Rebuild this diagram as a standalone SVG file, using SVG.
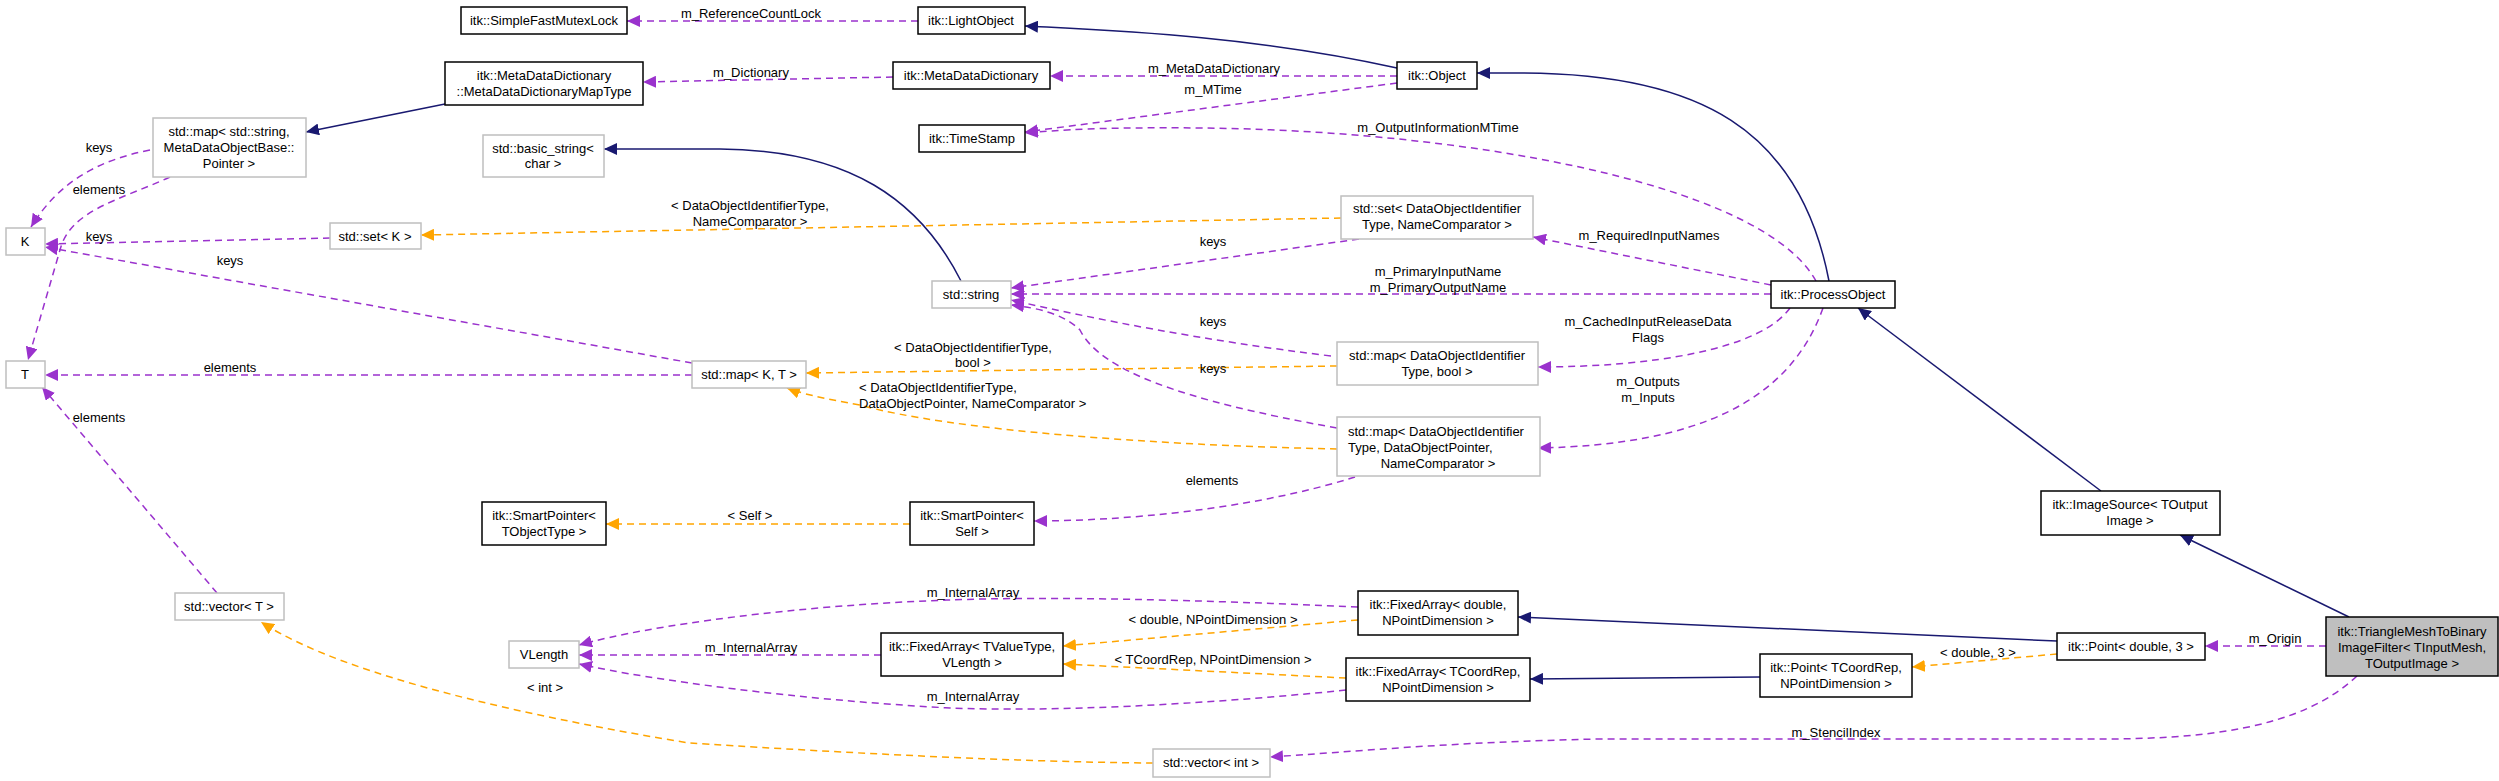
<svg xmlns="http://www.w3.org/2000/svg" width="2499" height="781" viewBox="0 0 2499 781">
<style>
text{font-family:"Liberation Sans",Arial,sans-serif;font-size:13px;fill:#000;text-anchor:middle}
.b{fill:#fff;stroke:#000;stroke-width:1.5}
.g{fill:#fff;stroke:#bfbfbf;stroke-width:1.5}
.inh{fill:none;stroke:#191970;stroke-width:1.5}
.mem{fill:none;stroke:#9a32cd;stroke-width:1.5;stroke-dasharray:7,5}
.tpl{fill:none;stroke:#ffa500;stroke-width:1.5;stroke-dasharray:7,5}
.l{font-size:13px}
</style>
<defs>
<marker id="ab" markerUnits="userSpaceOnUse" markerWidth="14" markerHeight="12" refX="13" refY="6" orient="auto"><path d="M0,0 L13,6 L0,12 Z" fill="#191970"/></marker>
<marker id="ap" markerUnits="userSpaceOnUse" markerWidth="14" markerHeight="12" refX="13" refY="6" orient="auto"><path d="M0,0 L13,6 L0,12 Z" fill="#9a32cd"/></marker>
<marker id="ao" markerUnits="userSpaceOnUse" markerWidth="14" markerHeight="12" refX="13" refY="6" orient="auto"><path d="M0,0 L13,6 L0,12 Z" fill="#ffa500"/></marker>
</defs>
<g id="connectors">
<path class="inh" marker-end="url(#ab)" d="M1397,68 C1250,35 1100,30 1025,26"/>
<path class="inh" marker-end="url(#ab)" d="M445,104 L306,132"/>
<path class="inh" marker-end="url(#ab)" d="M961,281 C920,200 850,150 720,149 L604,149"/>
<path class="inh" marker-end="url(#ab)" d="M1829,281 C1800,130 1700,73 1520,73 L1477,73"/>
<path class="inh" marker-end="url(#ab)" d="M2101,491 L1858,308"/>
<path class="inh" marker-end="url(#ab)" d="M2349,617 L2180,535"/>
<path class="inh" marker-end="url(#ab)" d="M2057,641 L1518,617"/>
<path class="inh" marker-end="url(#ab)" d="M1760,677 L1530,679"/>
<path class="mem" marker-end="url(#ap)" d="M918,21 L627,21"/>
<path class="mem" marker-end="url(#ap)" d="M893,77 L643,82"/>
<path class="mem" marker-end="url(#ap)" d="M1397,76 L1050,76"/>
<path class="mem" marker-end="url(#ap)" d="M1397,83 L1025,132"/>
<path class="mem" marker-end="url(#ap)" d="M1816,281 C1760,180 1450,130 1200,128 C1100,127 1060,130 1025,133"/>
<path class="mem" marker-end="url(#ap)" d="M1771,285 L1533,237"/>
<path class="mem" marker-end="url(#ap)" d="M1771,294 L1011,294"/>
<path class="mem" marker-end="url(#ap)" d="M1359,239 L1011,288"/>
<path class="mem" marker-end="url(#ap)" d="M1331,356 C1200,340 1100,320 1011,300"/>
<path class="mem" marker-end="url(#ap)" d="M1337,428 C1180,400 1100,370 1080,330 C1065,315 1040,308 1011,305"/>
<path class="mem" marker-end="url(#ap)" d="M1790,308 C1760,350 1650,367 1538,367"/>
<path class="mem" marker-end="url(#ap)" d="M1823,308 C1790,400 1700,445 1538,448"/>
<path class="mem" marker-end="url(#ap)" d="M1355,477 C1250,510 1120,521 1034,521"/>
<path class="mem" marker-end="url(#ap)" d="M150,150 C100,160 60,180 31,227"/>
<path class="mem" marker-end="url(#ap)" d="M170,177 C120,200 70,210 60,250 L28,360"/>
<path class="mem" marker-end="url(#ap)" d="M330,238 L45,244"/>
<path class="mem" marker-end="url(#ap)" d="M692,363 L45,247"/>
<path class="mem" marker-end="url(#ap)" d="M692,375 L45,375"/>
<path class="mem" marker-end="url(#ap)" d="M217,593 L42,387"/>
<path class="mem" marker-end="url(#ap)" d="M1358,607 C1200,600 1050,596 950,600 C800,605 650,625 579,645"/>
<path class="mem" marker-end="url(#ap)" d="M881,655 L579,655"/>
<path class="mem" marker-end="url(#ap)" d="M1346,690 C1200,705 1050,712 950,708 C800,700 650,680 579,664"/>
<path class="mem" marker-end="url(#ap)" d="M2326,646 L2205,646"/>
<path class="mem" marker-end="url(#ap)" d="M2357,676 C2300,730 2200,739 2100,739 L1600,739 C1450,742 1350,752 1270,757"/>
<path class="tpl" marker-end="url(#ao)" d="M1341,218 L421,235"/>
<path class="tpl" marker-end="url(#ao)" d="M1337,366 L806,373"/>
<path class="tpl" marker-end="url(#ao)" d="M1337,449 C1150,445 950,430 860,405 C820,398 800,393 787,388"/>
<path class="tpl" marker-end="url(#ao)" d="M910,524 L606,524"/>
<path class="tpl" marker-end="url(#ao)" d="M1358,620 L1063,646"/>
<path class="tpl" marker-end="url(#ao)" d="M1346,678 L1063,664"/>
<path class="tpl" marker-end="url(#ao)" d="M2057,654 L1912,667"/>
<path class="tpl" marker-end="url(#ao)" d="M1153,763 C1000,762 800,750 689,743 C550,720 350,680 261,622"/>
<g class="labels">
<text x="751" y="18">m_ReferenceCountLock</text>
<text x="751" y="77">m_Dictionary</text>
<text x="1214" y="73">m_MetaDataDictionary</text>
<text x="1213" y="94">m_MTime</text>
<text x="1438" y="132">m_OutputInformationMTime</text>
<text x="1649" y="240">m_RequiredInputNames</text>
<text x="1438" y="276">m_PrimaryInputName</text>
<text x="1438" y="292">m_PrimaryOutputName</text>
<text x="1648" y="326">m_CachedInputReleaseData</text>
<text x="1648" y="342">Flags</text>
<text x="1648" y="386">m_Outputs</text>
<text x="1648" y="402">m_Inputs</text>
<text x="1213" y="246">keys</text>
<text x="1213" y="326">keys</text>
<text x="1213" y="373">keys</text>
<text x="750" y="210">&lt; DataObjectIdentifierType,</text>
<text x="750" y="226">NameComparator &gt;</text>
<text x="973" y="352">&lt; DataObjectIdentifierType,</text>
<text x="973" y="367">bool &gt;</text>
<text x="859" y="392" text-anchor="start" style="text-anchor:start">&lt; DataObjectIdentifierType,</text>
<text x="859" y="408" style="text-anchor:start">DataObjectPointer, NameComparator &gt;</text>
<text x="1212" y="485">elements</text>
<text x="750" y="520">&lt; Self &gt;</text>
<text x="99" y="152">keys</text>
<text x="99" y="194">elements</text>
<text x="99" y="241">keys</text>
<text x="230" y="265">keys</text>
<text x="230" y="372">elements</text>
<text x="99" y="422">elements</text>
<text x="973" y="597">m_InternalArray</text>
<text x="751" y="652">m_InternalArray</text>
<text x="973" y="701">m_InternalArray</text>
<text x="1213" y="624">&lt; double, NPointDimension &gt;</text>
<text x="1213" y="664">&lt; TCoordRep, NPointDimension &gt;</text>
<text x="545" y="692">&lt; int &gt;</text>
<text x="2275" y="643">m_Origin</text>
<text x="1978" y="657">&lt; double, 3 &gt;</text>
<text x="1836" y="737">m_StencilIndex</text>
</g>
</g>
<g id="n_mutex"><rect class="b" x="461" y="7" width="166" height="27"/><text x="544" y="25">itk::SimpleFastMutexLock</text></g>
<g id="n_light"><rect class="b" x="918" y="7" width="107" height="27"/><text x="971" y="25">itk::LightObject</text></g>
<g id="n_maptype"><rect class="b" x="445" y="62" width="198" height="43"/><text x="544" y="80">itk::MetaDataDictionary</text><text x="544" y="96">::MetaDataDictionaryMapType</text></g>
<g id="n_mdd"><rect class="b" x="893" y="62" width="157" height="27"/><text x="971" y="80">itk::MetaDataDictionary</text></g>
<g id="n_object"><rect class="b" x="1397" y="62" width="80" height="27"/><text x="1437" y="80">itk::Object</text></g>
<g id="n_timestamp"><rect class="b" x="919" y="125" width="106" height="27"/><text x="972" y="143">itk::TimeStamp</text></g>
<g id="n_mapstr"><rect class="g" x="153" y="118" width="153" height="59"/><text x="229" y="136">std::map&lt; std::string,</text><text x="229" y="152">MetaDataObjectBase::</text><text x="229" y="168">Pointer &gt;</text></g>
<g id="n_basicstr"><rect class="g" x="483" y="135" width="121" height="42"/><text x="543" y="153">std::basic_string&lt;</text><text x="543" y="168">char &gt;</text></g>
<g id="n_K"><rect class="g" x="6" y="228" width="39" height="27"/><text x="25" y="246">K</text></g>
<g id="n_setK"><rect class="g" x="330" y="223" width="91" height="26"/><text x="375" y="241">std::set&lt; K &gt;</text></g>
<g id="n_T"><rect class="g" x="6" y="361" width="39" height="27"/><text x="25" y="379">T</text></g>
<g id="n_setDO"><rect class="g" x="1341" y="196" width="192" height="43"/><text x="1437" y="213">std::set&lt; DataObjectIdentifier</text><text x="1437" y="229">Type, NameComparator &gt;</text></g>
<g id="n_string"><rect class="g" x="932" y="281" width="79" height="27"/><text x="971" y="299">std::string</text></g>
<g id="n_process"><rect class="b" x="1771" y="281" width="124" height="27"/><text x="1833" y="299">itk::ProcessObject</text></g>
<g id="n_mapbool"><rect class="g" x="1337" y="342" width="201" height="43"/><text x="1437" y="360">std::map&lt; DataObjectIdentifier</text><text x="1437" y="376">Type, bool &gt;</text></g>
<g id="n_mapKT"><rect class="g" x="692" y="361" width="114" height="27"/><text x="749" y="379">std::map&lt; K, T &gt;</text></g>
<g id="n_mapdop"><rect class="g" x="1337" y="417" width="203" height="59"/><text x="1348" y="436" style="text-anchor:start">std::map&lt; DataObjectIdentifier</text><text x="1348" y="452" style="text-anchor:start">Type, DataObjectPointer,</text><text x="1438" y="468">NameComparator &gt;</text></g>
<g id="n_sptype"><rect class="b" x="482" y="502" width="124" height="43"/><text x="544" y="520">itk::SmartPointer&lt;</text><text x="544" y="536">TObjectType &gt;</text></g>
<g id="n_spself"><rect class="b" x="910" y="502" width="124" height="43"/><text x="972" y="520">itk::SmartPointer&lt;</text><text x="972" y="536">Self &gt;</text></g>
<g id="n_imgsrc"><rect class="b" x="2041" y="491" width="179" height="44"/><text x="2130" y="509">itk::ImageSource&lt; TOutput</text><text x="2130" y="525">Image &gt;</text></g>
<g id="n_vecT"><rect class="g" x="175" y="593" width="109" height="27"/><text x="229" y="611">std::vector&lt; T &gt;</text></g>
<g id="n_vlength"><rect class="g" x="509" y="641" width="70" height="27"/><text x="544" y="659">VLength</text></g>
<g id="n_fatv"><rect class="b" x="881" y="633" width="182" height="43"/><text x="972" y="651">itk::FixedArray&lt; TValueType,</text><text x="972" y="667">VLength &gt;</text></g>
<g id="n_fad"><rect class="b" x="1358" y="591" width="160" height="44"/><text x="1438" y="609">itk::FixedArray&lt; double,</text><text x="1438" y="625">NPointDimension &gt;</text></g>
<g id="n_fatc"><rect class="b" x="1346" y="658" width="184" height="43"/><text x="1438" y="676">itk::FixedArray&lt; TCoordRep,</text><text x="1438" y="692">NPointDimension &gt;</text></g>
<g id="n_pointtc"><rect class="b" x="1760" y="654" width="152" height="43"/><text x="1836" y="672">itk::Point&lt; TCoordRep,</text><text x="1836" y="688">NPointDimension &gt;</text></g>
<g id="n_pointd"><rect class="b" x="2057" y="633" width="148" height="27"/><text x="2131" y="651">itk::Point&lt; double, 3 &gt;</text></g>
<g id="n_tri"><rect x="2326" y="617" width="172" height="59" fill="#bfbfbf" stroke="#000" stroke-width="1.5"/><text x="2412" y="636">itk::TriangleMeshToBinary</text><text x="2412" y="652">ImageFilter&lt; TInputMesh,</text><text x="2412" y="668">TOutputImage &gt;</text></g>
<g id="n_vecint"><rect class="g" x="1153" y="749" width="117" height="28"/><text x="1211" y="767">std::vector&lt; int &gt;</text></g>
</svg>
